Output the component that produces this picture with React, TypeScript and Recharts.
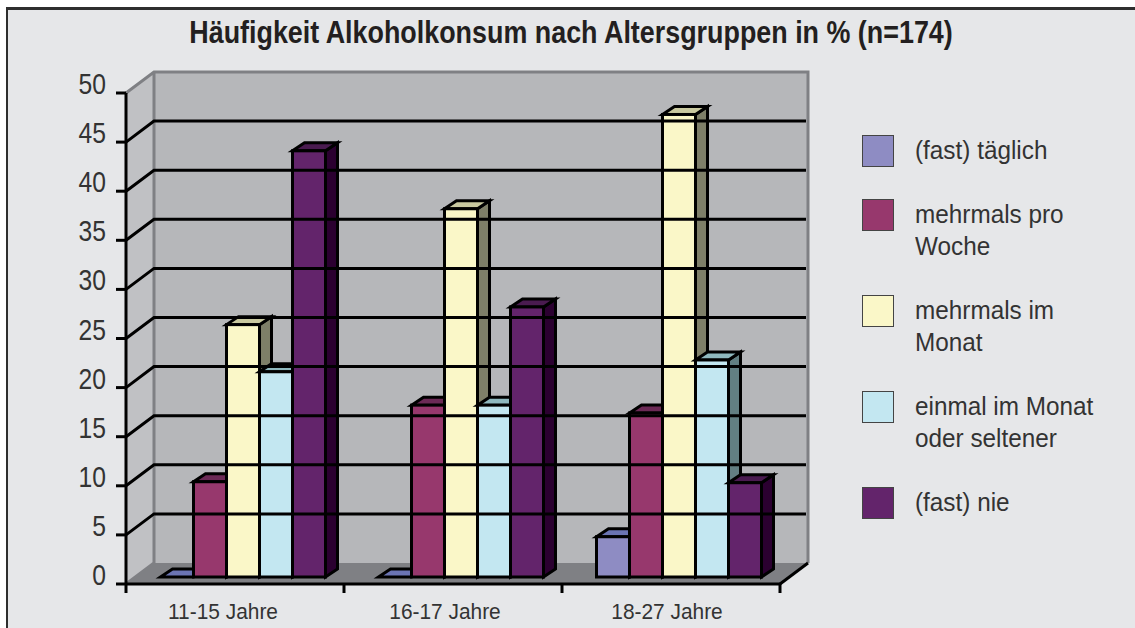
import React from 'react';
import {
  BarChart,
  Bar,
  XAxis,
  YAxis,
  ReferenceArea,
  ReferenceLine,
  Legend,
} from 'recharts';

// no narrow face installed, so text gets squeezed with scaleX below
const FONT = '"Liberation Sans", sans-serif';

const ageGroups = ['11-15 Jahre', '16-17 Jahre', '18-27 Jahre'];
const taeglich = [0, 0, 4.1];
const proWoche = [9.7, 17.5, 16.7];
const imMonat = [25.7, 37.5, 47.1];
const einmalMonat = [20.9, 17.5, 22.1];
const nie = [43.4, 27.5, 9.6];
const yTicks = [0, 5, 10, 15, 20, 25, 30, 35, 40, 45, 50];
const gridValues = [5, 10, 15, 20, 25, 30, 35, 40, 45];

const data = ageGroups.map((group, i) => ({
  group,
  taeglich: taeglich[i],
  proWoche: proWoche[i],
  imMonat: imMonat[i],
  einmalMonat: einmalMonat[i],
  nie: nie[i],
}));

const series = [
  { key: 'taeglich', name: '(fast) täglich', front: '#8e8cc3', top: '#6b74b3', side: '#4c4f80' },
  { key: 'proWoche', name: 'mehrmals pro Woche', front: '#97386d', top: '#6c2a56', side: '#4e1c3c' },
  { key: 'imMonat', name: 'mehrmals im Monat', front: '#faf7c8', top: '#c9c9a0', side: '#7e7f68' },
  { key: 'einmalMonat', name: 'einmal im Monat oder seltener', front: '#c3e7f1', top: '#8fb8be', side: '#627f82' },
  { key: 'nie', name: '(fast) nie', front: '#63246b', top: '#4a1b50', side: '#2b0030' },
];

// 3D look of the old chart
const DEPTH_X = 12;
const DEPTH_Y = 8;
const SHIFT_X = 8;
const SHIFT_Y = -7;
const WALL_X = 28;
const WALL_Y = 21;
const BAND = 218;

function Bar3D(props: any) {
  const { x, y, width, height, fill, top, side } = props;
  const l = x + SHIFT_X;
  const r = l + width;
  const t = y + SHIFT_Y;
  const b = t + height;
  const common = { stroke: '#000', strokeWidth: 3, strokeLinejoin: 'miter' as const };
  return (
    <g>
      <polygon
        points={`${r},${t} ${r + DEPTH_X},${t - DEPTH_Y} ${r + DEPTH_X},${b - DEPTH_Y} ${r},${b}`}
        fill={side}
        {...common}
      />
      <polygon
        points={`${l},${t} ${l + DEPTH_X},${t - DEPTH_Y} ${r + DEPTH_X},${t - DEPTH_Y} ${r},${t}`}
        fill={top}
        {...common}
      />
      <rect x={l} y={t} width={width} height={height} fill={fill} {...common} />
    </g>
  );
}

function Walls(props: any) {
  const { x, y, width, height } = props;
  const r = x + width;
  const b = y + height;
  return (
    <g>
      <polygon
        points={`${x},${y} ${x + WALL_X},${y - WALL_Y} ${x + WALL_X},${b - WALL_Y} ${x},${b}`}
        fill="#c0c1c4"
      />
      <rect x={x + WALL_X} y={y - WALL_Y} width={width} height={height} fill="#b6b7ba" />
      <polygon
        points={`${x},${b} ${x + WALL_X},${b - WALL_Y} ${r + WALL_X},${b - WALL_Y} ${r},${b}`}
        fill="#7f8084"
      />
      <path
        d={`M${x},${y} L${x + WALL_X},${y - WALL_Y} L${r + WALL_X},${y - WALL_Y} L${r + WALL_X},${b - WALL_Y} M${x + WALL_X},${y - WALL_Y} L${x + WALL_X},${b - WALL_Y} L${x},${b}`}
        fill="none"
        stroke="#7f8084"
        strokeWidth={3}
      />
      <line x1={r} y1={b} x2={r + WALL_X} y2={b - WALL_Y} stroke="#000" strokeWidth={3} />
    </g>
  );
}

function GridLine3D(props: any) {
  const { x1, y1, x2 } = props;
  return (
    <path
      d={`M${x1},${y1} L${x1 + WALL_X},${y1 - WALL_Y} L${x2 + WALL_X - 2},${y1 - WALL_Y}`}
      fill="none"
      stroke="#000"
      strokeWidth={3}
    />
  );
}

function XTick(props: any) {
  const { x, y, payload, index } = props;
  const last = index === ageGroups.length - 1;
  return (
    <g>
      <line x1={x - BAND / 2} y1={y - 8} x2={x - BAND / 2} y2={y + 1} stroke="#000" strokeWidth={3} />
      {last && (
        <line x1={x + BAND / 2} y1={y - 8} x2={x + BAND / 2} y2={y + 1} stroke="#000" strokeWidth={3} />
      )}
      <text
        transform={`translate(${x - 12 + index * 4},${y + 27}) scale(0.95,1)`}
        textAnchor="middle"
        fontFamily={FONT}
        fontSize={22}
        fill="#333"
      >
        {payload.value}
      </text>
    </g>
  );
}

function YTick(props: any) {
  const { x, y, payload } = props;
  return (
    <text
      transform={`translate(${x},${y + 1}) scale(0.85,1)`}
      textAnchor="end"
      fontFamily={FONT}
      fontSize={29}
      fill="#333"
    >
      {payload.value}
    </text>
  );
}

function LegendList({ payload }: any) {
  return (
    <div style={{ fontFamily: FONT, fontSize: 26, lineHeight: '32px', color: '#333' }}>
      {(payload || []).map((item: any) => (
        <div key={item.value} style={{ marginBottom: 32, position: 'relative', width: 240 }}>
          <div
            style={{
              position: 'absolute',
              left: 0,
              top: 0,
              width: 30,
              height: 30,
              background: item.color,
              border: '1px solid #444',
            }}
          />
          <div
            style={{
              position: 'relative',
              top: -1,
              marginLeft: 53,
              width: 200,
              transform: 'scaleX(0.935)',
              transformOrigin: 'left top',
            }}
          >
            {item.value}
          </div>
        </div>
      ))}
    </div>
  );
}

export default function App() {
  return (
    <div style={{ position: 'absolute', left: 0, top: 0, width: 1135, height: 628, background: '#fff', overflow: 'hidden' }}>
      <div
        style={{
          position: 'absolute',
          left: 6,
          top: 7,
          width: 1129,
          height: 621,
          boxSizing: 'border-box',
          background: '#e6e7e9',
          borderTop: '3px solid #2e2e2e',
          borderLeft: '2px solid #2e2e2e',
        }}
      />
      <div
        style={{
          position: 'absolute',
          left: 0,
          top: 14,
          width: 1142,
          textAlign: 'center',
          fontFamily: FONT,
          fontWeight: 'bold',
          fontSize: 32,
          lineHeight: '36px',
          color: '#231f20',
          whiteSpace: 'nowrap',
          transform: 'scaleX(0.84)',
          transformOrigin: '571px 0',
        }}
      >
        Häufigkeit Alkoholkonsum nach Altersgruppen in % (n=174)
      </div>
      <div style={{ position: 'absolute', left: 0, top: 0 }}>
        <BarChart
          width={1135}
          height={628}
          data={data}
          margin={{ top: 93, right: 110, bottom: 0, left: 0 }}
          barCategoryGap={26.5}
          barGap={0}
        >
          <XAxis
            dataKey="group"
            height={44}
            tickLine={false}
            axisLine={{ stroke: '#000', strokeWidth: 3 }}
            tick={<XTick />}
            interval={0}
          />
          <YAxis
            width={126}
            domain={[0, 50]}
            ticks={yTicks}
            interval={0}
            tickSize={10}
            tickMargin={10}
            axisLine={{ stroke: '#000', strokeWidth: 3 }}
            tickLine={{ stroke: '#000', strokeWidth: 3 }}
            tick={<YTick />}
          />
          <ReferenceArea y1={0} y2={50} shape={<Walls />} fillOpacity={1} />
          {gridValues.map(v => (
            <ReferenceLine key={v} y={v} shape={<GridLine3D />} />
          ))}
          {series.map(s => (
            <Bar
              key={s.key}
              dataKey={s.key}
              name={s.name}
              fill={s.front}
              isAnimationActive={false}
              shape={(p: any) => <Bar3D {...p} fill={s.front} top={s.top} side={s.side} />}
            />
          ))}
          <Legend
            layout="vertical"
            align="right"
            verticalAlign="middle"
            itemSorter={null}
            content={<LegendList />}
            wrapperStyle={{ position: 'absolute', left: 862, top: 135, width: 245, bottom: 'auto', right: 'auto' }}
          />
        </BarChart>
      </div>
    </div>
  );
}
